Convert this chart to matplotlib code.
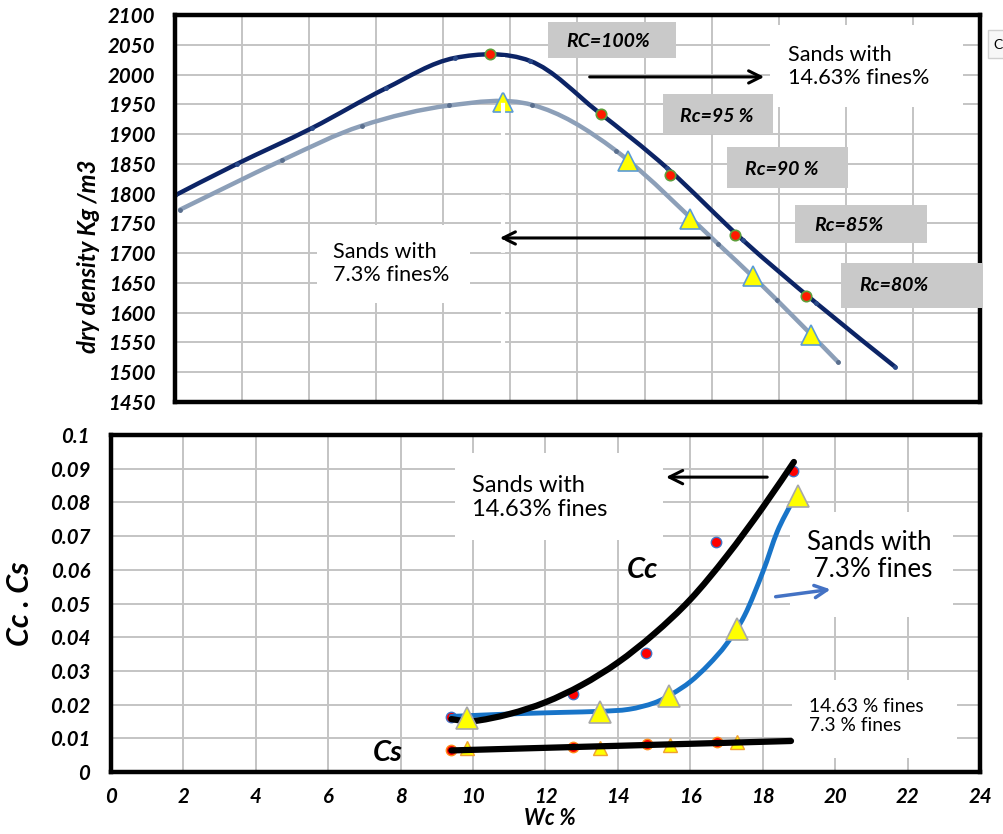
import numpy as np
import matplotlib
matplotlib.use("Agg")
import matplotlib.pyplot as plt
from matplotlib.path import Path
from matplotlib.patches import PathPatch, Rectangle, FancyArrowPatch

plt.rcParams['font.family'] = ['Lato', 'DejaVu Sans']

# ---------------- data (top: dry density vs water content) ----------------
top_x_ticks = list(range(0, 25, 2))
top_y_ticks = list(range(1450, 2101, 50))

# 14.63 % fines curve (navy)
d146_x = [0.0, 1.85, 4.08, 6.29, 8.35, 10.58, 12.6, 14.67, 16.93, 19.1, 21.47]
d146_y = [1797, 1850, 1910, 1977, 2028, 2023, 1938, 1843, 1722, 1617, 1509]
# compaction points (red dots)
rc146_x = [9.4, 12.7, 14.76, 16.7, 18.81]
rc146_y = [2034, 1934, 1831, 1730, 1628]

# 7.3 % fines curve (grey-blue)
d73_x = [0.15, 3.19, 5.57, 8.18, 10.65, 13.15, 16.2, 17.95, 19.77]
d73_y = [1773, 1856, 1914, 1948, 1949, 1872, 1715, 1621, 1517]
rc73_x = [9.78, 13.5, 15.35, 17.23, 18.96]
rc73_y = [1954, 1855, 1757, 1662, 1563]

rc_labels = ["RC=100%", "Rc=95 %", "Rc=90 %", "Rc=85%", "Rc=80%"]

# ---------------- data (bottom: Cc, Cs vs water content) ----------------
bot_x_ticks = list(range(0, 25, 2))
bot_y_ticks = [0, 0.01, 0.02, 0.03, 0.04, 0.05, 0.06, 0.07, 0.08, 0.09, 0.1]
bot_y_labels = ["0", "0.01", "0.02", "0.03", "0.04", "0.05", "0.06", "0.07", "0.08", "0.09", "0.1"]

# Cc, 14.63 % fines
cc146_x = [9.4, 12.76, 14.78, 16.72, 18.84]
cc146_y = [0.0163, 0.0232, 0.0352, 0.0683, 0.0894]
cc146_fit_x = [9.4, 10.0, 11.0, 12.0, 13.0, 14.0, 15.0, 16.0, 17.0, 18.0, 18.86]
cc146_fit_y = [0.0157, 0.0151, 0.0172, 0.0207, 0.0258, 0.0325, 0.0410, 0.0512, 0.0640, 0.0785, 0.0920]

# Cc, 7.3 % fines
cc73_x = [9.83, 13.5, 15.42, 17.29, 18.98]
cc73_y = [0.0160, 0.0179, 0.0225, 0.0424, 0.0818]
cc73_fit_x = [9.4, 10.5, 11.5, 12.5, 13.5, 14.3, 15.0, 15.5, 16.0, 16.5, 17.0, 17.5, 18.0, 18.4, 18.78]
cc73_fit_y = [0.0165, 0.0170, 0.0174, 0.0177, 0.0180, 0.0186, 0.0205, 0.0232, 0.0268, 0.0318, 0.0380, 0.0465, 0.0593, 0.0713, 0.0795]

# Cs
cs146_x = [9.4, 12.76, 14.8, 16.74]
cs146_y = [0.0064, 0.0074, 0.0083, 0.0088]
cs73_x = [9.83, 13.5, 15.44, 17.29]
cs73_y = [0.0070, 0.0071, 0.0080, 0.0090]
cs_fit_x = [9.4, 18.78]
cs_fit_y = [0.0064, 0.0092]

# ---------------- helpers ----------------
def smooth_line(ax, xs, ys, **kw):
    pts = np.column_stack([xs, ys]).astype(float)
    n = len(pts)
    verts = [pts[0]]
    codes = [Path.MOVETO]
    for i in range(n - 1):
        p0 = pts[max(i - 1, 0)]
        p1 = pts[i]
        p2 = pts[i + 1]
        p3 = pts[min(i + 2, n - 1)]
        c1 = p1 + (p2 - p0) / 6.0
        c2 = p2 - (p3 - p1) / 6.0
        verts += [c1, c2, p2]
        codes += [Path.CURVE4] * 3
    patch = PathPatch(Path(verts, codes), fill=False, transform=ax.transData,
                      capstyle='round', joinstyle='round', **kw)
    ax.add_patch(patch)
    return patch

def arrow(ax, x0, y0, x1, y1, color, lw=2.2, ms=22, z=6):
    a = FancyArrowPatch((x0, y0), (x1, y1), arrowstyle='->', mutation_scale=ms,
                        color=color, lw=lw, zorder=z)
    ax.add_patch(a)

def white_box(ax, x0, x1, y0, y1, z=3):
    ax.add_patch(Rectangle((x0, y0), x1 - x0, y1 - y0, facecolor='white',
                           edgecolor='none', zorder=z))

tick_font = dict(fontsize=14.7, fontweight='bold', fontstyle='italic')

fig = plt.figure(figsize=(10.04, 8.34), dpi=100)
fig.patch.set_facecolor('white')

# ======================= TOP AXES =======================
ax1 = fig.add_axes([175 / 1004, 1 - 402 / 834, 805 / 1004, 387 / 834])
ax1.set_xlim(0, 24)
ax1.set_ylim(1450, 2100)
ax1.set_xticks(top_x_ticks)
ax1.set_xticklabels([])
ax1.set_yticks(top_y_ticks)
ax1.set_yticklabels([str(v) for v in top_y_ticks], **tick_font)
ax1.tick_params(length=0, pad=14)
ax1.grid(True, color='#c4c4c4', lw=1.4, zorder=0)
ax1.set_axisbelow(True)
for s in ax1.spines.values():
    s.set_linewidth(3.2)
    s.set_color('black')
    s.set_zorder(5)
ax1.set_ylabel("dry density Kg /m3", fontsize=17.3, fontweight='bold', fontstyle='italic')
ax1.yaxis.set_label_coords((100 - 175) / 805, (402 - 256) / 387)

smooth_line(ax1, d146_x, d146_y, color='#0c2466', lw=3.2, zorder=3)
ax1.plot(d146_x, d146_y, ls='none', marker='o', ms=2.5, color='#2a4a8a', zorder=3)
smooth_line(ax1, d73_x, d73_y, color='#8c9fb8', lw=3.2, zorder=3)
ax1.plot(d73_x, d73_y, ls='none', marker='o', ms=2.5, color='#5a6f8e', zorder=3)

ax1.plot(rc146_x, rc146_y, ls='none', marker='o', ms=7.5, mfc='#ff1a00',
         mec='#5f9e3a', mew=1.2, zorder=8)
ax1.plot(rc73_x, rc73_y, ls='none', marker='^', ms=15, mfc='#ffff00',
         mec='#5b9bd5', mew=1.2, zorder=8)

# white dashed artefact line
ax1.plot([9.78, 9.78], [2030, 1495], color='white', lw=3, ls=(0, (3, 2.5)), zorder=9)

# RC boxes (x0, x1, y_bottom, y_top, text_x, text_y)
rc_boxes = [(11.12, 14.94, 2027.8, 2088.2, 11.66, 2056),
            (14.55, 17.83, 1900.1, 1967.3, 15.06, 1929),
            (16.46, 20.07, 1809.4, 1878.3, 16.99, 1841),
            (18.49, 22.42, 1717.1, 1780.9, 19.05, 1747),
            (19.86, 24.08, 1607.9, 1683.5, 20.39, 1645)]
for lab, (bx0, bx1, by0, by1, tx, ty) in zip(rc_labels, rc_boxes):
    ax1.add_patch(Rectangle((bx0, by0), bx1 - bx0, by1 - by0, facecolor='#c9c9c9',
                            edgecolor='none', zorder=10, clip_on=False))
    ax1.text(tx, ty, lab, fontsize=14, fontweight='bold', fontstyle='italic',
             ha='left', va='center', zorder=11)

white_box(ax1, 17.74, 23.5, 1946, 2084)
ax1.text(18.28, 2013, "Sands with\n14.63% fines%", fontsize=15.6, ha='left', va='center',
         linespacing=1.2, zorder=6)
arrow(ax1, 12.28, 1996, 17.65, 1996, 'black')

white_box(ax1, 4.23, 8.8, 1616, 1747)
ax1.text(4.71, 1683, "Sands with\n7.3% fines%", fontsize=15.6, ha='left', va='center',
         linespacing=1.2, zorder=6)
arrow(ax1, 16.01, 1725.5, 9.6, 1725.5, 'black')

# ======================= BOTTOM AXES =======================
ax2 = fig.add_axes([111 / 1004, 1 - 772 / 834, 869 / 1004, 337 / 834])
ax2.set_xlim(0, 24)
ax2.set_ylim(0, 0.1)
ax2.set_xticks(bot_x_ticks)
ax2.set_xticklabels([str(v) for v in bot_x_ticks], **tick_font)
ax2.set_yticks(bot_y_ticks)
ax2.set_yticklabels(bot_y_labels, **tick_font)
ax2.tick_params(axis='y', length=0, pad=15)
ax2.tick_params(axis='x', length=0, pad=11)
ax2.grid(True, color='#c4c4c4', lw=1.4, zorder=0)
ax2.set_axisbelow(True)
for s in ax2.spines.values():
    s.set_linewidth(3.2)
    s.set_color('black')
    s.set_zorder(5)
ax2.set_ylabel("Cc . Cs", fontsize=22, fontweight='bold', fontstyle='italic')
ax2.yaxis.set_label_coords((34 - 111) / 869, 0.5)
ax2.set_xlabel("Wc %", fontsize=15.5, fontweight='bold', fontstyle='italic')
ax2.xaxis.set_label_coords((550 - 111) / 869, -(808 - 772) / 337)

# markers under lines
ax2.plot(cc146_x, cc146_y, ls='none', marker='o', ms=7.5, mfc='#ff0000',
         mec='#4472c4', mew=1.0, zorder=3)
ax2.plot(cs146_x, cs146_y, ls='none', marker='o', ms=7.5, mfc='#ff0000',
         mec='#ff8c1a', mew=1.0, zorder=3)
ax2.plot(cs73_x, cs73_y, ls='none', marker='^', ms=10, mfc='#ffff00',
         mec='#f0a030', mew=1.0, zorder=3)

smooth_line(ax2, cc73_fit_x, cc73_fit_y, color='#1874c8', lw=3.5, zorder=4)
smooth_line(ax2, cc146_fit_x, cc146_fit_y, color='black', lw=4.5, zorder=5)
ax2.plot(cs_fit_x, cs_fit_y, color='black', lw=4.5, solid_capstyle='round', zorder=5)

ax2.plot(cc73_x, cc73_y, ls='none', marker='^', ms=16, mfc='#ffff00',
         mec='#a8a8a8', mew=1.2, zorder=6)

# annotations
white_box(ax2, 9.5, 15.24, 0.0688, 0.0947)
ax2.text(9.97, 0.0815, "Sands with\n14.63% fines", fontsize=17, ha='left', va='center',
         linespacing=1.15, zorder=7)
arrow(ax2, 18.2, 0.0875, 15.25, 0.0875, 'black', ms=24)

ax2.text(14.69, 0.0599, "Cc", fontsize=21, fontweight='bold', fontstyle='italic',
         ha='center', va='center', zorder=7)

white_box(ax2, 18.75, 23.25, 0.046, 0.0772)
ax2.text(19.21, 0.0642, "Sands with\n 7.3% fines", fontsize=18.7, ha='left', va='center',
         linespacing=1.1, zorder=7)
arrow(ax2, 18.28, 0.0519, 19.95, 0.0543, '#4472c4', lw=2.5, ms=22)

white_box(ax2, 18.81, 23.36, 0.0042, 0.0273)
ax2.text(19.28, 0.0166, "14.63 % fines\n7.3 % fines", fontsize=13.8, ha='left', va='center',
         linespacing=1.2, zorder=7)

ax2.text(7.65, 0.0056, "Cs", fontsize=21, fontweight='bold', fontstyle='italic',
         ha='center', va='center', zorder=7)

# small UI artefact at top right
fig.patches.append(Rectangle((988 / 1004, 1 - 58 / 834), 20 / 1004, 28 / 834,
                             transform=fig.transFigure, facecolor='#f7f7f7',
                             edgecolor='#d0d0d0', lw=1))
fig.text(993 / 1004, 1 - 45 / 834, "C", fontsize=10, va='center', ha='left')

fig.savefig("out.png", dpi=100, facecolor='white')
